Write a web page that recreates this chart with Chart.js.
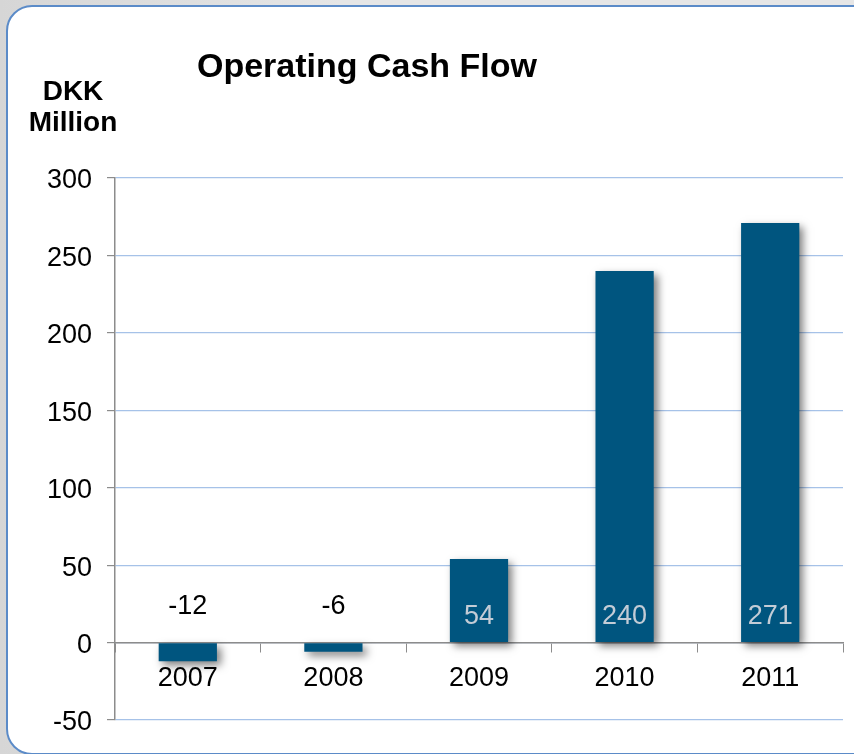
<!DOCTYPE html>
<html>
<head>
<meta charset="utf-8">
<title>Operating Cash Flow</title>
<script src="https://cdn.jsdelivr.net/npm/chart.js@4/dist/chart.umd.min.js"></script>
<style>
  html, body { margin: 0; padding: 0; }
  body {
    width: 854px; height: 754px; overflow: hidden; position: relative;
    background: linear-gradient(90deg, #d6d6d6, #e6e6e6 40%, #e6e6e6);
    font-family: 'Liberation Sans', Arial, sans-serif;
  }
  #frame {
    position: absolute; left: 6px; top: 5px; width: 870px; height: 746px;
    border: 2px solid #5b8bc8; border-radius: 26px; background: #fff;
  }
  #chart-wrap { position: absolute; left: 0; top: 0; width: 854px; height: 754px; }
  .title {
    position: absolute; left: 167px; top: 45px; width: 400px; text-align: center;
    font-weight: bold; font-size: 34px; line-height: 40px; color: #000;
  }
  .unit {
    position: absolute; left: 13px; top: 75px; width: 120px; text-align: center;
    font-weight: bold; font-size: 28px; line-height: 31px; color: #000;
  }
</style>
</head>
<body>
<div id="frame"></div>
<div id="chart-wrap"><canvas id="chart" width="854" height="754"></canvas></div>
<div class="title">Operating Cash Flow</div>
<div class="unit">DKK<br>Million</div>

<script>
// Operating cash flow per year, DKK million
const years = ['2007', '2008', '2009', '2010', '2011'];
const cashFlow = [-12, -6, 54, 240, 271];
const yMin = -50;
const yMax = 300;
const yStep = 50;

const barColor = '#00557f';
const gridBlue = '#a6c2e8';
const axisGrey = '#8c8c8c';
const fontFamily = "'Liberation Sans', Arial, sans-serif";

// soft drop shadow behind the bars
const barShadow = {
    id: 'barShadow',
    beforeDatasetsDraw(chart) {
        const ctx = chart.ctx;
        ctx.save();
        ctx.shadowColor = 'rgba(0, 0, 0, 0.5)';
        ctx.shadowBlur = 8;
        ctx.shadowOffsetX = 4;
        ctx.shadowOffsetY = 4;
    },
    afterDatasetsDraw(chart) {
        chart.ctx.restore();
    }
};

// value labels: negatives above the zero line, positives inside the bar base
const valueLabels = {
    id: 'valueLabels',
    afterDatasetsDraw(chart) {
        const ctx = chart.ctx;
        const zero = chart.scales.y.getPixelForValue(0);
        const meta = chart.getDatasetMeta(0);
        ctx.save();
        ctx.font = '27px ' + fontFamily;
        ctx.textAlign = 'center';
        ctx.textBaseline = 'middle';
        meta.data.forEach((bar, i) => {
            const v = cashFlow[i];
            if (v < 0) {
                ctx.fillStyle = '#000';
                ctx.fillText(String(v), bar.x, zero - 36);
            } else {
                ctx.fillStyle = '#c3ccd6';
                ctx.fillText(String(v), bar.x, zero - 26);
            }
        });
        ctx.restore();
    }
};

const ctx = document.getElementById('chart').getContext('2d');
new Chart(ctx, {
    type: 'bar',
    data: {
        labels: years,
        datasets: [{
            data: cashFlow,
            backgroundColor: barColor,
            borderWidth: 0,
            barPercentage: 0.4,
            categoryPercentage: 1.0
        }]
    },
    options: {
        responsive: false,
        animation: false,
        layout: { padding: { left: 0, top: 178, right: 11, bottom: 34 } },
        plugins: {
            legend: { display: false },
            tooltip: { enabled: false }
        },
        scales: {
            x: {
                position: { y: 0 },
                grid: {
                    display: true,
                    drawOnChartArea: false,
                    drawTicks: true,
                    tickLength: 9,
                    offset: true,
                    tickColor: axisGrey
                },
                border: { display: true, color: axisGrey, width: 1.5 },
                ticks: {
                    color: '#000',
                    padding: 11,
                    font: { family: fontFamily, size: 27 }
                }
            },
            y: {
                min: yMin,
                max: yMax,
                afterFit(scale) { scale.width = 115; },
                grid: {
                    color: gridBlue,
                    lineWidth: 1.2,
                    tickLength: 8,
                    tickColor: axisGrey
                },
                border: { display: true, color: axisGrey, width: 1.5 },
                ticks: {
                    stepSize: yStep,
                    color: '#000',
                    padding: 15,
                    labelOffset: 3,
                    font: { family: fontFamily, size: 27 }
                }
            }
        }
    },
    plugins: [barShadow, valueLabels]
});
</script>
</body>
</html>
